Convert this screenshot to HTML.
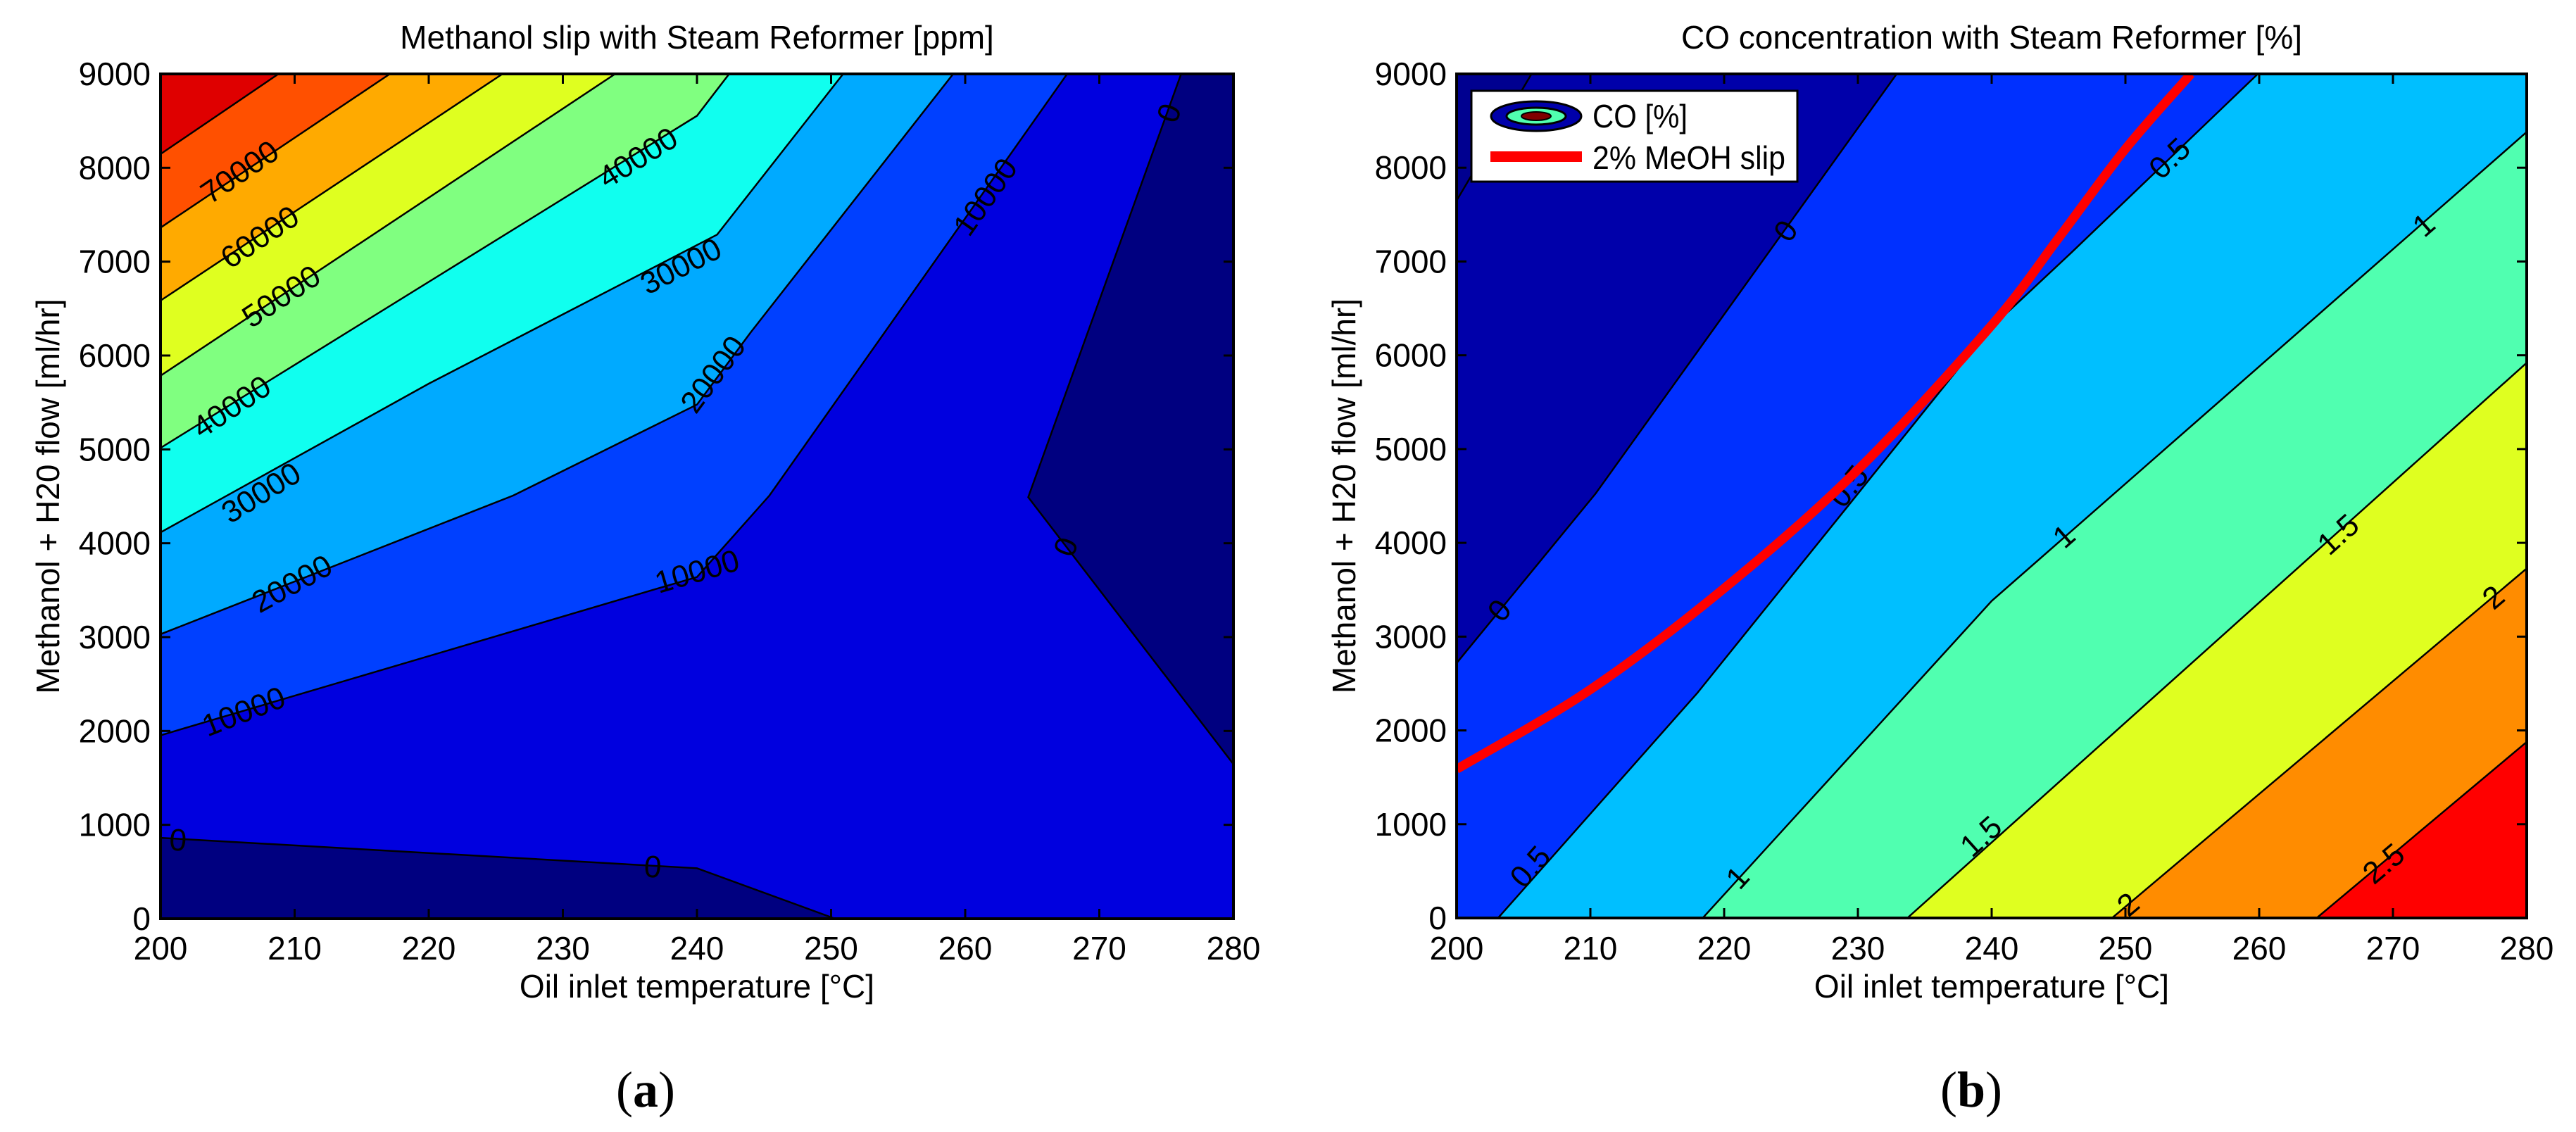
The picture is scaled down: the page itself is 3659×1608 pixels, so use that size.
<!DOCTYPE html>
<html><head><meta charset="utf-8"><style>
html,body{margin:0;padding:0;background:#fff}
svg{display:block}
text{font-family:"Liberation Sans",sans-serif;fill:#000}
</style></head><body>
<svg id="fig" width="3659" height="1608" viewBox="0 0 3659 1608" xmlns="http://www.w3.org/2000/svg">
<defs>
<clipPath id="clipA"><rect x="228" y="105" width="1524" height="1200"/></clipPath>
<clipPath id="clipB"><rect x="2069" y="105" width="1520" height="1199"/></clipPath>
</defs>
<g id="plotA"></g>
<g id="plotB"></g>
<text x="917" y="1572" font-size="72" text-anchor="middle" style="font-family:'Liberation Serif',serif">(<tspan font-weight="bold">a</tspan>)</text>
<text x="2800" y="1572" font-size="72" text-anchor="middle" style="font-family:'Liberation Serif',serif">(<tspan font-weight="bold">b</tspan>)</text>
</svg>
<script>
// ---------- data: plot A (methanol slip, ppm) ----------
const xTicks = [200,210,220,230,240,250,260,270,280];
const yTicks = [0,1000,2000,3000,4000,5000,6000,7000,8000,9000];
const aLevelNames = ['10000','20000','30000','40000','50000','60000','70000','80000'];
const aContour10000 = [[200,1954],[237,3515],[240,3640],[245.4,4508],[267.6,9000]];
const aContour20000 = [[200,3031],[226.3,4508],[240,5477],[244,6246],[259.1,9000]];
const aContour30000 = [[200,4115],[220,5700],[241.5,7288],[250.9,9000]];
const aContour40000 = [[200,5015],[240,8554],[242.4,9000]];
const aContour50000 = [[200,5785],[233.9,9000]];
const aContour60000 = [[200,6585],[225.5,9000]];
const aContour70000 = [[200,7362],[217.1,9000]];
const aContour80000 = [[200,8146],[208.8,9000]];
const aContour0Bottom = [[200,862],[240,538],[250.3,0]];
const aContour0Right = [[276.1,9000],[264.7,4490],[280,1646]];
const aLabelText = ['70000','60000','50000','40000','30000','20000','10000','0','0','40000','30000','20000','10000','10000','0','0'];
const aLabelX = [205.9,207.4,209,205.3,207.5,209.8,206.2,201.3,236.7,235.6,238.8,241.2,240,261.5,267.5,275.2];
const aLabelY = [7956,7262,6630,5454,4538,3569,2208,838,553,8108,6952,5800,3700,7690,3962,8584];
const aLabelLine = ['80000','70000','60000','50000','40000','30000','20000','0b','0b','40000','30000','20000','10000','10000','0r','0r'];

// ---------- data: plot B (CO %) ----------
const bContourNeg = [[200,7650],[205.6,9000]];
const bContour0 = [[200,2718],[210.4,4527],[232.9,9000]];
const bContour05 = [[203.1,0],[218,2400],[229.3,4400],[240,6300],[246,7100],[259.9,9000]];
const bContour1 = [[218.4,0],[240,3380],[280,8381]];
const bContour15 = [[233.7,0],[280,5920]];
const bContour2 = [[249,0],[280,3727]];
const bContour25 = [[264.3,0],[280,1877]];
const bSlipX = [200,210,220,230,240,245,250,254.9];
const bSlipY = [1586,2436,3515,4780,6320,7250,8200,9000];
const bLabelText = ['0','0','0.5','0.5','0.5','1','1','1','1.5','1.5','2','2','2.5'];
const bLabelX = [224.6,203.2,205.5,229.3,253.3,221,245.4,272.3,239.2,265.9,250.2,277.5,269.3];
const bLabelY = [7327,3280,547,4604,8100,430,4070,7390,870,4090,145,3420,580];
const bLabelLine = ['0','0','05','05','05','1','1','1','15','15','2','2','25'];

// ---------- helpers ----------
const NS='http://www.w3.org/2000/svg';
function mk(tag,attrs,parent){const e=document.createElementNS(NS,tag);for(const k in attrs)e.setAttribute(k,attrs[k]);parent.appendChild(e);return e;}
function makeAxes(x0,y0,w,h){
  return {X:v=>x0+(v-200)/80*w, Y:v=>y0+h-v/9000*h, x0,y0,w,h};
}
function ptsStr(ax,pts){return pts.map(p=>ax.X(p[0]).toFixed(1)+','+ax.Y(p[1]).toFixed(1)).join(' ');}
function angleAt(ax,line,x){
  for(let i=0;i<line.length-1;i++){
    const a=line[i],b=line[i+1];
    const lo=Math.min(a[0],b[0]),hi=Math.max(a[0],b[0]);
    if(x>=lo-0.5&&x<=hi+0.5||i===line.length-2){
      const dx=ax.X(b[0])-ax.X(a[0]),dy=ax.Y(b[1])-ax.Y(a[1]);
      let ang=Math.atan2(dy,dx)*180/Math.PI;
      if(ang>90)ang-=180; if(ang<-90)ang+=180;
      return ang;
    }
  }
  return 0;
}
function frame(g,ax,title){
  mk('rect',{x:ax.x0,y:ax.y0,width:ax.w,height:ax.h,fill:'none',stroke:'#000','stroke-width':4},g);
  const t=mk('text',{x:ax.x0+ax.w/2,y:69,'font-size':46,'text-anchor':'middle'},g);t.textContent=title;
  
  
  xTicks.forEach(v=>{
    const x=ax.X(v);
    mk('line',{x1:x,y1:ax.y0+ax.h,x2:x,y2:ax.y0+ax.h-14,stroke:'#000','stroke-width':3},g);
    mk('line',{x1:x,y1:ax.y0,x2:x,y2:ax.y0+14,stroke:'#000','stroke-width':3},g);
    const l=mk('text',{x:x,y:1363,'font-size':46,'text-anchor':'middle'},g);l.textContent=v;
    
    
  });
  yTicks.forEach(v=>{
    const y=ax.Y(v);
    mk('line',{x1:ax.x0,y1:y,x2:ax.x0+14,y2:y,stroke:'#000','stroke-width':3},g);
    mk('line',{x1:ax.x0+ax.w,y1:y,x2:ax.x0+ax.w-14,y2:y,stroke:'#000','stroke-width':3},g);
    const l=mk('text',{x:ax.x0-14,y:y+16,'font-size':46,'text-anchor':'end'},g);l.textContent=v;
    
    
  });
  const xl=mk('text',{x:ax.x0+ax.w/2,y:1417,'font-size':46,'text-anchor':'middle'},g);xl.textContent='Oil inlet temperature [°C]';
  
  
  const yl=mk('text',{x:0,y:0,'font-size':46,'text-anchor':'middle',transform:`translate(${ax.x0-144},${ax.y0+ax.h/2}) rotate(-90)`},g);yl.textContent='Methanol + H20 flow [ml/hr]';
  
  
}

// ---------- Plot A ----------
(function(){
  const g=document.getElementById('plotA');
  const ax=makeAxes(228,105,1524,1200);
  const c=mk('g',{'clip-path':'url(#clipA)'},g);
  const bg=mk('rect',{x:ax.x0,y:ax.y0,width:ax.w,height:ax.h,fill:'#0000df'},c);
  
  
  const lines={'10000':aContour10000,'20000':aContour20000,'30000':aContour30000,'40000':aContour40000,'50000':aContour50000,'60000':aContour60000,'70000':aContour70000,'80000':aContour80000,'0b':aContour0Bottom,'0r':aContour0Right};
  const fills=['#0040ff','#00aaff','#10ffef','#80ff80','#dfff20','#ffaa00','#ff5000','#df0000'];
  aLevelNames.forEach((n,i)=>{
    const p=mk('polygon',{points:ptsStr(ax,lines[n].concat([[200,9000]])),fill:fills[i]},c);
    
    
  });
  const nb=mk('polygon',{points:ptsStr(ax,aContour0Bottom.concat([[200,0]])),fill:'#000080'},c);
  
  
  const nr=mk('polygon',{points:ptsStr(ax,aContour0Right.concat([[280,9000]])),fill:'#000080'},c);
  
  
  Object.keys(lines).forEach(k=>{
    const pl=mk('polyline',{points:ptsStr(ax,lines[k]),fill:'none',stroke:'#000','stroke-width':2.5},c);
    
    
  });
  aLabelText.forEach((t,i)=>{
    const x=ax.X(aLabelX[i]),y=ax.Y(aLabelY[i]);
    const ang=angleAt(ax,lines[aLabelLine[i]],aLabelX[i]);
    const l=mk('text',{x:0,y:15,'font-size':44,'text-anchor':'middle',transform:`translate(${x},${y}) rotate(${ang})`},c);
    l.textContent=t;
    
    
  });
  frame(g,ax,'Methanol slip with Steam Reformer [ppm]');
})();

// ---------- Plot B ----------
(function(){
  const g=document.getElementById('plotB');
  const ax=makeAxes(2069,105,1520,1199);
  const c=mk('g',{'clip-path':'url(#clipB)'},g);
  const bg=mk('rect',{x:ax.x0,y:ax.y0,width:ax.w,height:ax.h,fill:'#0000aa'},c);
  
  
  const neg=mk('polygon',{points:ptsStr(ax,bContourNeg.concat([[200,9000]])),fill:'#000090'},c);
  
  
  const lines={'neg':bContourNeg,'0':bContour0,'05':bContour05,'1':bContour1,'15':bContour15,'2':bContour2,'25':bContour25};
  const regs=[['0',bContour0,[[280,9000],[280,0],[200,0]],'#0030ff'],
              ['05',bContour05,[[280,9000],[280,0]],'#00bfff'],
              ['1',bContour1,[[280,0]],'#50ffb0'],
              ['15',bContour15,[[280,0]],'#dfff20'],
              ['2',bContour2,[[280,0]],'#ff8c00'],
              ['25',bContour25,[[280,0]],'#ff0000']];
  regs.forEach(r=>{
    const p=mk('polygon',{points:ptsStr(ax,r[1].concat(r[2])),fill:r[3]},c);
    
    
  });
  Object.keys(lines).forEach(k=>{
    const pl=mk('polyline',{points:ptsStr(ax,lines[k]),fill:'none',stroke:'#000','stroke-width':2.5},c);
    
    
  });
  bLabelText.forEach((t,i)=>{
    const x=ax.X(bLabelX[i]),y=ax.Y(bLabelY[i]);
    const ang=angleAt(ax,lines[bLabelLine[i]],bLabelX[i]);
    const l=mk('text',{x:0,y:15,'font-size':44,'text-anchor':'middle',transform:`translate(${x},${y}) rotate(${ang})`},c);
    l.textContent=t;
    
    
  });
  // smooth red slip curve (Catmull-Rom)
  const P=bSlipX.map((x,i)=>[ax.X(x),ax.Y(bSlipY[i])]);
  let d='M'+P[0][0]+','+P[0][1];
  for(let i=0;i<P.length-1;i++){
    const p0=P[Math.max(0,i-1)],p1=P[i],p2=P[i+1],p3=P[Math.min(P.length-1,i+2)];
    const c1=[p1[0]+(p2[0]-p0[0])/6,p1[1]+(p2[1]-p0[1])/6];
    const c2=[p2[0]-(p3[0]-p1[0])/6,p2[1]-(p3[1]-p1[1])/6];
    d+=` C${c1[0]},${c1[1]} ${c2[0]},${c2[1]} ${p2[0]},${p2[1]}`;
  }
  const sl=mk('path',{d:d,fill:'none',stroke:'#ff0000','stroke-width':13},c);
  
  
  frame(g,ax,'CO concentration with Steam Reformer [%]');
  // legend
  const lg=mk('g',{},g);
  
  
  mk('rect',{x:2090,y:129,width:463,height:129,fill:'#fff',stroke:'#000','stroke-width':3},lg);
  mk('ellipse',{cx:2182,cy:165,rx:64,ry:21,fill:'#0000aa',stroke:'#000','stroke-width':3},lg);
  mk('ellipse',{cx:2182,cy:165,rx:42,ry:12,fill:'#50ffb0',stroke:'#000','stroke-width':3},lg);
  mk('ellipse',{cx:2182,cy:165,rx:21,ry:6,fill:'#800000',stroke:'#000','stroke-width':2},lg);
  const l1=mk('text',{x:2262,y:181,'font-size':46,textLength:135,lengthAdjust:'spacingAndGlyphs'},lg);l1.textContent='CO [%]';
  
  
  mk('rect',{x:2117,y:215,width:130,height:15,fill:'#ff0000'},lg);
  const l2=mk('text',{x:2262,y:240,'font-size':46,textLength:274,lengthAdjust:'spacingAndGlyphs'},lg);l2.textContent='2% MeOH slip';
  
  
})();
</script>
</body></html>
